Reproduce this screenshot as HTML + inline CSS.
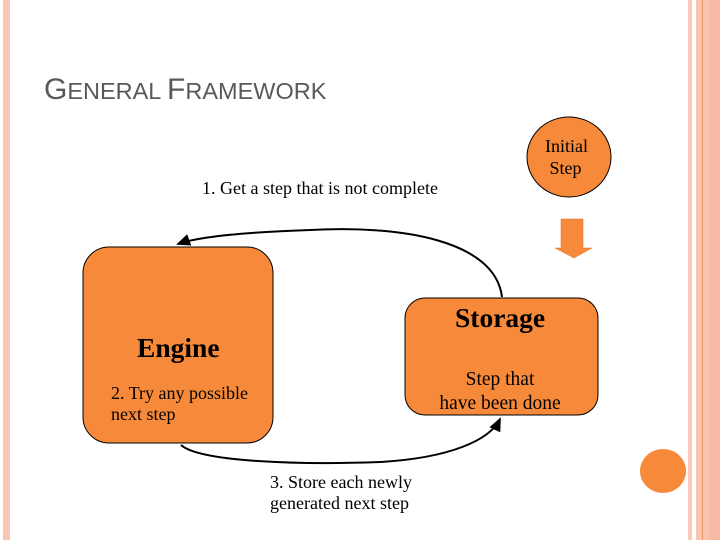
<!DOCTYPE html>
<html><head><style>
body{margin:0;width:720px;height:540px;background:#fff;position:relative;overflow:hidden;font-family:"Liberation Serif",serif;}
.t{position:absolute;white-space:nowrap;color:#000;}
</style></head><body>
<div style="position:absolute;left:3px;top:0;width:7px;height:540px;background:#F9C6B3"></div>
<div style="position:absolute;left:688px;top:0;width:4px;height:540px;background:#F9CBB8"></div>
<div style="position:absolute;left:696px;top:0;width:24px;height:540px;background:#FBC4AE"></div>
<div style="position:absolute;left:702px;top:0;width:1px;height:540px;background:#E8956E"></div>
<div style="position:absolute;left:709px;top:0;width:11px;height:540px;background:#F7BBA5"></div>
<div class="t" style="left:44px;top:73px;font-family:'Liberation Sans',sans-serif;color:#595959;font-size:23.5px"><span style="font-size:30px">G</span>ENERAL <span style="font-size:30px">F</span>RAMEWORK</div>
<svg width="720" height="540" style="position:absolute;left:0;top:0">
<defs><marker id="a" markerWidth="8" markerHeight="8" refX="6" refY="4" orient="auto"><path d="M0,1 L7,4 L0,7z" fill="#000"/></marker></defs>
<rect x="83" y="247" width="190" height="196" rx="26" fill="#F68A3A" stroke="#000" stroke-width="1"/>
<rect x="405" y="298" width="193" height="117" rx="20" fill="#F68A3A" stroke="#000" stroke-width="1"/>
<ellipse cx="569" cy="157" rx="42" ry="40" fill="#F68A3A" stroke="#000" stroke-width="1"/>
<path d="M561,219 H583 V248 H592 L574,258 L555,248 H561z" fill="#F68A3A" stroke="#E07020" stroke-width="0.5"/>
<ellipse cx="663" cy="471" rx="23" ry="22" fill="#F68A3A"/>
<path d="M502,297 C495,240 400,225 310,230 C250,232 200,236 178,244" fill="none" stroke="#000" stroke-width="2" marker-end="url(#a)"/>
<path d="M181,445 C200,462 300,465 380,462 C450,458 490,440 500,419" fill="none" stroke="#000" stroke-width="2" marker-end="url(#a)"/>
</svg>
<div class="t" style="left:202px;top:178px;font-size:18px">1. Get a step that is not complete</div>
<div class="t" style="left:545px;top:135px;font-size:18px;line-height:22px">Initial<br>&nbsp;Step</div>
<div class="t" style="left:137px;top:332px;font-size:27.5px;font-weight:bold">Engine</div>
<div class="t" style="left:111px;top:383px;font-size:18px;line-height:21px">2. Try any possible<br>next step</div>
<div class="t" style="left:455px;top:302px;font-size:27.5px;font-weight:bold">Storage</div>
<div class="t" style="left:437px;top:368px;font-size:19.5px;line-height:24px;text-align:center;width:126px">Step that<br>have been done</div>
<div class="t" style="left:270px;top:472px;font-size:18px;line-height:21px">3. Store each newly<br>generated next step</div>
</body></html>
